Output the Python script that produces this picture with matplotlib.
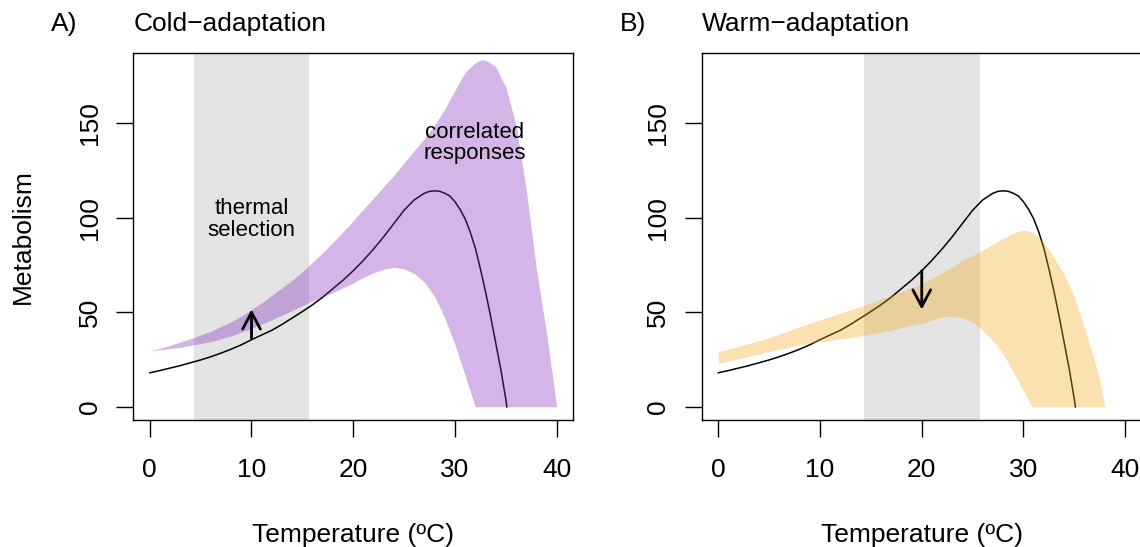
import numpy as np
import matplotlib
matplotlib.use("Agg")
import matplotlib.pyplot as plt

plt.rcParams['font.family'] = ['Liberation Sans', 'DejaVu Sans']

# baseline thermal performance curve (black line)
tpc_temp = [0, 1, 2, 3, 4, 5, 6, 7, 8, 9, 10, 11, 12, 13, 14, 15, 16, 17, 18, 19, 20,
            21, 22, 23, 24, 25, 26, 27, 27.5, 28, 28.5, 29, 29.5, 30, 30.5, 31, 31.5,
            32, 32.5, 33, 33.5, 34, 34.5, 35, 35.1]
tpc_met = [18, 19.2, 20.5, 21.8, 23.3, 24.8, 26.5, 28.4, 30.5, 32.8, 35.5, 38, 40.5,
           43.6, 47, 50.4, 54, 58, 62.5, 67, 72, 77.5, 83.5, 90, 97, 104, 109.5, 113,
           114, 114.3, 114, 113, 111.5, 108.5, 104.5, 99.5, 92.5, 84, 73, 61, 48, 34,
           20, 4, 0]

# cold-adaptation correlated response band
cold_temp = [0, 1, 2, 3, 4, 5, 6, 7, 8, 9, 10, 11, 12, 13, 14, 15, 16, 17, 18, 19, 20,
             21, 22, 23, 24, 25, 26, 27, 28, 29, 30, 31, 32, 32.5, 33, 34, 35, 36, 37,
             38, 39, 40]
cold_hi = [29.7, 31, 32.5, 34.3, 36, 38, 40, 42.5, 45, 48, 51.5, 55, 59, 63, 67, 71.5,
           76.5, 81.5, 87, 92.5, 98.5, 104.5, 110.5, 116.5, 122.5, 129, 135.5, 142, 149,
           157.5, 167.5, 177, 182, 183.5, 183.5, 180, 169, 149, 115, 73, 39, 0]
cold_lo = [29.7, 30.2, 30.8, 31.5, 32.5, 33.5, 34.5, 36, 37.5, 39.5, 41.5, 43.7, 46,
           48.5, 51, 53.5, 56, 58.3, 60.5, 63, 65.5, 68.5, 71, 72.8, 73.8, 73, 70.5,
           66, 58.5, 47, 33, 16.5, 0, 0, 0, 0, 0, 0, 0, 0, 0, 0]

# warm-adaptation correlated response band
warm_temp = [0, 1, 2, 3, 4, 5, 6, 7, 8, 9, 10, 11, 12, 13, 14, 15, 16, 17, 18, 19, 20,
             21, 22, 23, 24, 25, 26, 27, 28, 29, 30, 30.8, 31, 32, 33, 34, 35, 36, 37,
             37.5, 38]
warm_hi = [29.2, 30.6, 32, 33.5, 35, 36.7, 38.5, 40.4, 42.4, 44.2, 46, 47.8, 49.5,
           51.2, 53, 55, 57, 59, 61, 63, 65, 68, 71, 74, 77.5, 80, 83, 86, 89, 92,
           93.5, 92.5, 92, 87, 79, 70, 58, 42, 24, 14, 0]
warm_lo = [23, 24.2, 25.5, 26.7, 28, 29.2, 30.5, 31.6, 32.7, 33.6, 34.5, 35.2, 36,
           36.7, 37.5, 38.5, 39.5, 40.5, 42, 43, 44, 46, 47.5, 47.8, 47, 45, 40.5,
           35, 28, 18.5, 8.5, 0, 0, 0, 0, 0, 0, 0, 0, 0, 0]

sel_cold = [4.3, 15.7]
sel_warm = [14.3, 25.7]
arrow_cold = [10, 36, 51.5]   # temp, from, to
arrow_warm = [20, 72, 51.5]

xticks = [0, 10, 20, 30, 40]
yticks = [0, 50, 100, 150]

fs = 19

fig = plt.figure(figsize=(11.4, 5.47), dpi=100)
axA = fig.add_axes([0.1171, 0.2314, 0.3855, 0.6717])
axB = fig.add_axes([0.6158, 0.2314, 0.3855, 0.6717])

panels = [
    (axA, 'A)', 'Cold\u2212adaptation', cold_temp, cold_hi, cold_lo, (129/255, 44/255, 189/255),
     sel_cold, arrow_cold),
    (axB, 'B)', 'Warm\u2212adaptation', warm_temp, warm_hi, warm_lo, (245/255, 170/255, 30/255),
     sel_warm, arrow_warm),
]

for ax, lab, title, bt, bhi, blo, col, sel, arr in panels:
    ax.axvspan(sel[0], sel[1], color='#e3e3e3', lw=0, zorder=1)
    ax.plot(tpc_temp, tpc_met, color='black', lw=1.1, zorder=2)
    ax.fill_between(bt, blo, bhi, color=col, alpha=0.35, lw=0, zorder=3)
    ax.annotate('', xy=(arr[0], arr[2]), xytext=(arr[0], arr[1]),
                arrowprops=dict(arrowstyle='->,head_length=0.6,head_width=0.32',
                                lw=2, color='black', shrinkA=0, shrinkB=0,
                                mutation_scale=20), zorder=4)

    ax.set_xlim(-1.6, 41.6)
    ax.set_ylim(-7.2, 187.2)
    ax.set_xticks(xticks)
    ax.set_yticks(yticks)
    ax.tick_params(length=12, width=1, labelsize=fs)
    ax.tick_params(axis='x', pad=15)
    ax.tick_params(axis='y', pad=11)
    for t in ax.get_yticklabels():
        t.set_rotation(90)
        t.set_va('center')
    for s in ax.spines.values():
        s.set_linewidth(1)

    ax.text(-0.188, 1.0588, lab, transform=ax.transAxes, fontsize=fs, va='baseline', ha='left')
    ax.text(0, 1.0588, title, transform=ax.transAxes, fontsize=fs, va='baseline', ha='left')
    ax.set_xlabel('Temperature (\u00baC)', fontsize=fs, va='center')
    ax.xaxis.set_label_coords(0.5, -0.3106)

axA.set_ylabel('Metabolism', fontsize=fs, va='center')
axA.yaxis.set_label_coords(-0.252, 0.5)

axA.text(10, 99, 'thermal\nselection', fontsize=16, ha='center', va='center', linespacing=1.05, zorder=5)
axA.text(31.9, 139.6, 'correlated\nresponses', fontsize=16, ha='center', va='center', linespacing=1.05, zorder=5)

fig.savefig('out.png', dpi=100)
